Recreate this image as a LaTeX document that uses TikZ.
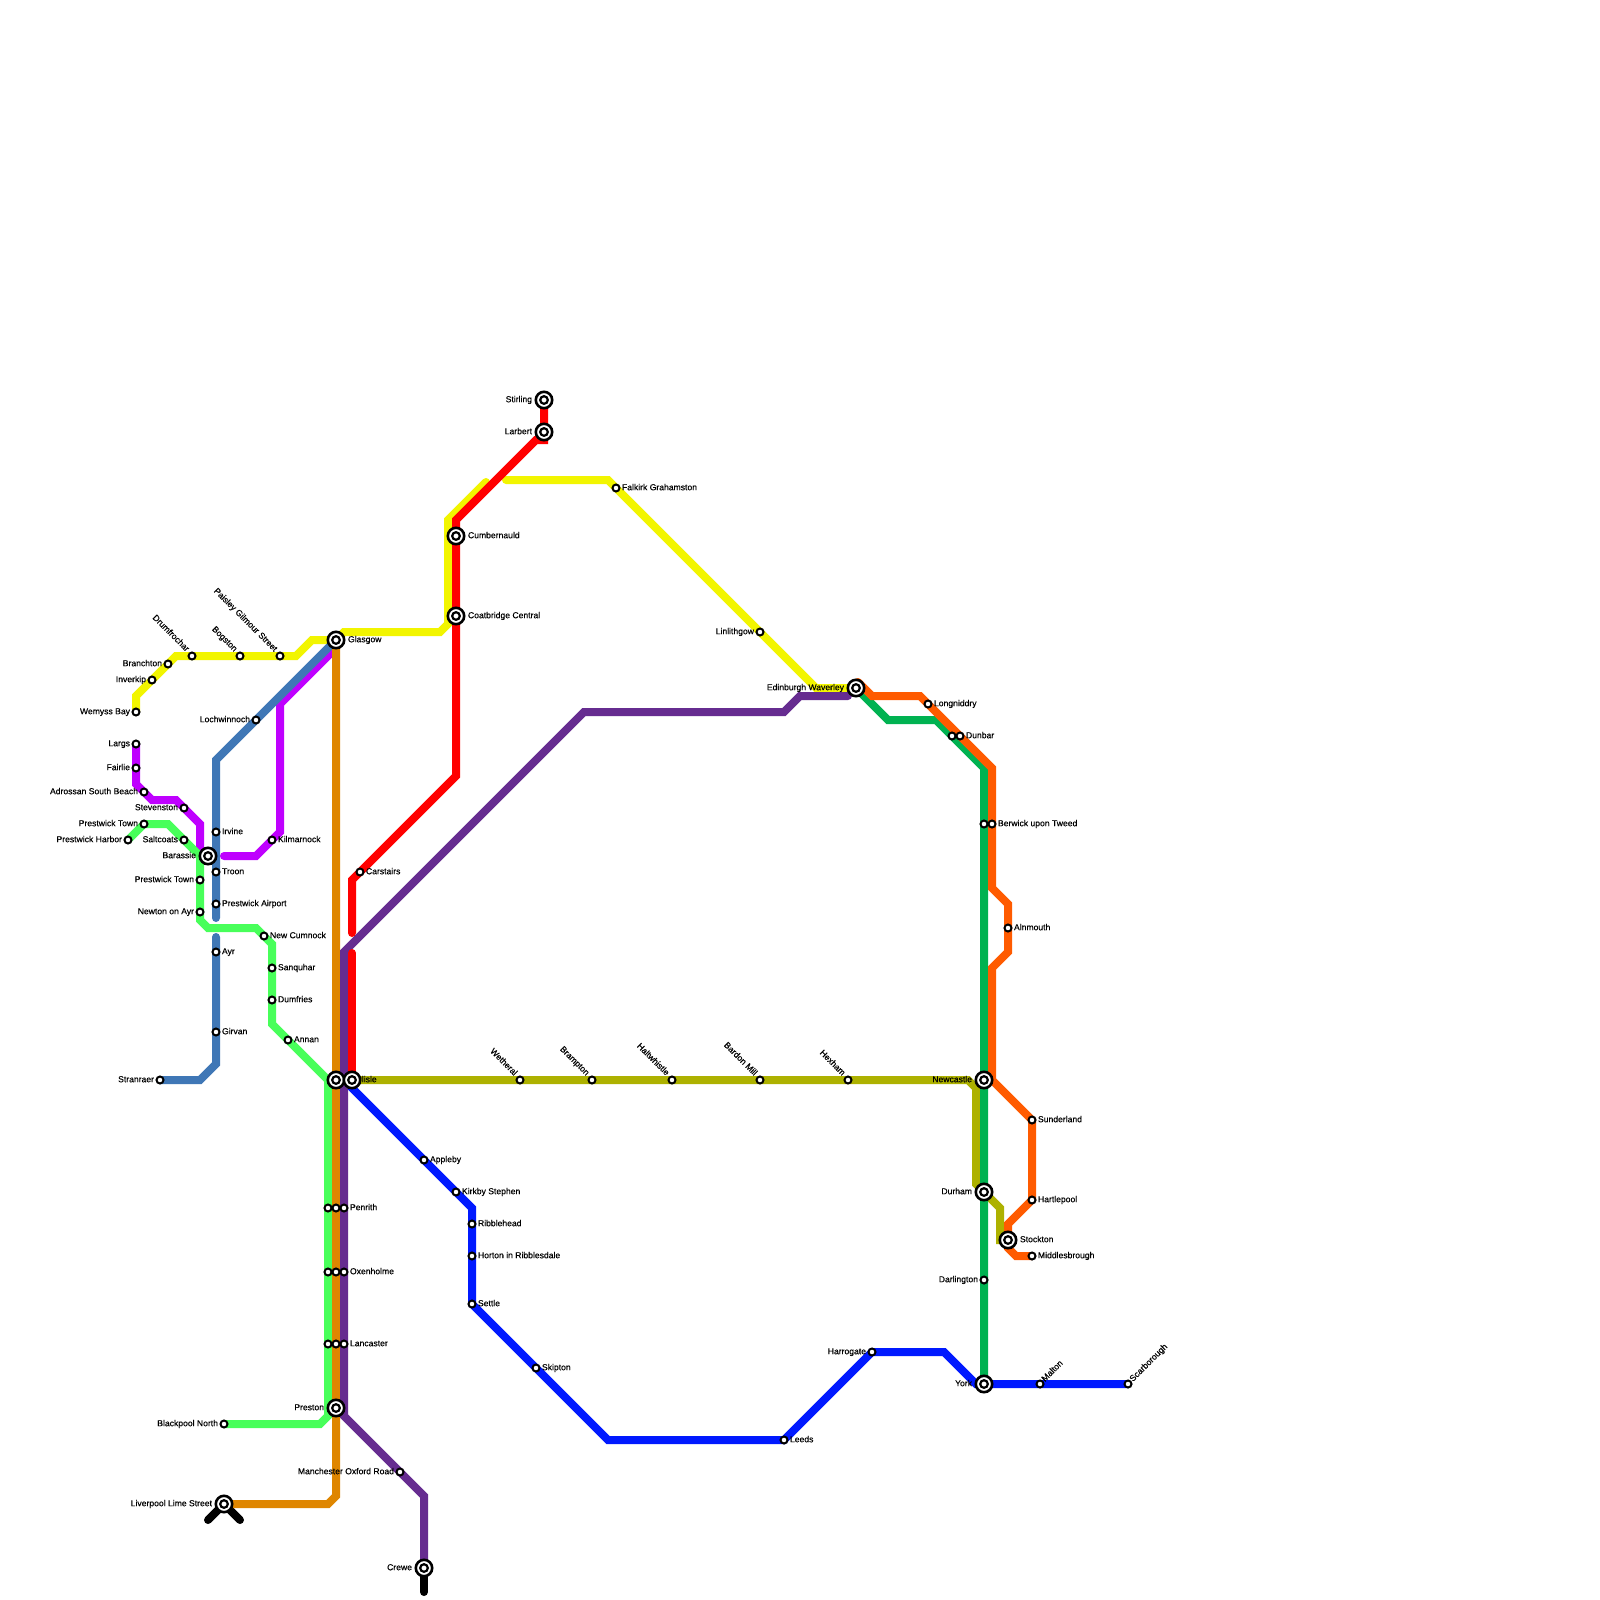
\documentclass[tikz,border=0pt]{standalone}
\usepackage{fontspec}
\newfontfamily\lblfont{Liberation Sans}[FakeBold=0.3]
\pgfdeclarelayer{lines}
\pgfdeclarelayer{labels}
\pgfsetlayers{lines,labels,main}
\definecolor{cyellow}{HTML}{F2F500}
\definecolor{cred}{HTML}{FF0000}
\definecolor{cpurple}{HTML}{662C90}
\definecolor{corange}{HTML}{DF8600}
\definecolor{csteel}{HTML}{3F77B6}
\definecolor{cmagenta}{HTML}{BF00FF}
\definecolor{cgreen}{HTML}{48FF5A}
\definecolor{cdgreen}{HTML}{00B251}
\definecolor{cverm}{HTML}{FF5B00}
\definecolor{colive}{HTML}{ADB100}
\definecolor{cblue}{HTML}{0019FF}
\tikzset{
  rail/.style={line width=8pt,line join=miter,miter limit=10,line cap=round},
  smallstn/.style={circle,draw=black,fill=white,line width=2pt,minimum size=7pt,inner sep=0pt,outer sep=0pt},
  bigstn/.style={circle,draw=black,fill=white,line width=2.6pt,minimum size=16.4pt,inner sep=0pt,outer sep=0pt},
  innerstn/.style={circle,draw=black,fill=white,line width=2.2pt,minimum size=7.6pt,inner sep=0pt,outer sep=0pt},
  lbl/.style={inner sep=0pt,outer sep=0pt,font=\lblfont\fontsize{8.6}{9}\selectfont,text=black},
}
\newcommand\labelat[5]{\begin{pgfonlayer}{labels}\node[lbl,anchor=#1,rotate=#2] (#3-t) at (#4) {#5};\end{pgfonlayer}}
\newcommand\stP[3]{\node[smallstn] (#1) at (#2,#3) {};}
\newcommand\stR[4]{\stP{#1}{#2}{#3}\labelat{base west}{0}{#1}{#2+6,#3+2.2}{#4}}
\newcommand\stL[4]{\stP{#1}{#2}{#3}\labelat{base east}{0}{#1}{#2-6,#3+2.2}{#4}}
\newcommand\stNW[4]{\stP{#1}{#2}{#3}\labelat{base east}{-45}{#1}{#2-6,#3-4}{#4}}
\newcommand\stNE[4]{\stP{#1}{#2}{#3}\labelat{base west}{45}{#1}{#2+5,#3-2}{#4}}
\newcommand\icP[3]{\node[bigstn] (#1) at (#2,#3) {};\node[innerstn] (#1-i) at (#2,#3) {};}
\newcommand\icR[4]{\labelat{base west}{0}{#1}{#2+12,#3+2.2}{#4}\icP{#1}{#2}{#3}}
\newcommand\icL[4]{\labelat{base east}{0}{#1}{#2-12,#3+2.2}{#4}\icP{#1}{#2}{#3}}
\begin{document}
\begin{tikzpicture}[x=1pt,y=-1pt]
\useasboundingbox (0,0) rectangle (1600,1600);
\begin{pgfonlayer}{lines}
\fill[white] (0,0) rectangle (1600,1600);
\end{pgfonlayer}
% Stations
\icR{glasgow}{336}{640}{Glasgow}
\stNW{drumfrochar}{192}{656}{Drumfrochar}
\stNW{bogston}{240}{656}{Bogston}
\stNW{paisley}{280}{656}{Paisley Gilmour Street}
\stL{branchton}{168}{664}{Branchton}
\stL{inverkip}{152}{680}{Inverkip}
\stL{wemyss}{136}{712}{Wemyss Bay}
\stL{largs}{136}{744}{Largs}
\stL{fairlie}{136}{768}{Fairlie}
\stL{adrossan}{144}{792}{Adrossan South Beach}
\stL{stevenston}{184}{808}{Stevenston}
\stL{prestwicka}{144}{824}{Prestwick Town}
\stL{harbor}{128}{840}{Prestwick Harbor}
\stL{saltcoats}{184}{840}{Saltcoats}
\icL{barassie}{208}{856}{Barassie}
\stR{irvine}{216}{832}{Irvine}
\stR{troon}{216}{872}{Troon}
\stL{prestwickb}{200}{880}{Prestwick Town}
\stL{lochwinnoch}{256}{720}{Lochwinnoch}
\stR{kilmarnock}{272}{840}{Kilmarnock}
\stR{carstairs}{360}{872}{Carstairs}
\stR{airport}{216}{904}{Prestwick Airport}
\stL{newton}{200}{912}{Newton on Ayr}
\stR{cumnock}{264}{936}{New Cumnock}
\stR{ayr}{216}{952}{Ayr}
\stR{sanquhar}{272}{968}{Sanquhar}
\stR{dumfries}{272}{1000}{Dumfries}
\stR{girvan}{216}{1032}{Girvan}
\stR{annan}{288}{1040}{Annan}
\stL{stranraer}{160}{1080}{Stranraer}
\icR{carlisle}{336}{1080}{Carlisle}
\icP{carlisleb}{352}{1080}
\stR{appleby}{424}{1160}{Appleby}
\stR{kirkby}{456}{1192}{Kirkby Stephen}
\stR{ribblehead}{472}{1224}{Ribblehead}
\stR{horton}{472}{1256}{Horton in Ribblesdale}
\stR{settle}{472}{1304}{Settle}
\stR{skipton}{536}{1368}{Skipton}
\stR{leeds}{784}{1440}{Leeds}
\stL{harrogate}{872}{1352}{Harrogate}
\icL{york}{984}{1384}{York}
\stNE{malton}{1040}{1384}{Malton}
\stNE{scarborough}{1128}{1384}{Scarborough}
\stL{darlington}{984}{1280}{Darlington}
\stP{penritha}{328}{1208}
\stP{penrithb}{336}{1208}
\stR{penrith}{344}{1208}{Penrith}
\stP{oxena}{328}{1272}
\stP{oxenb}{336}{1272}
\stR{oxenholme}{344}{1272}{Oxenholme}
\stP{lanca}{328}{1344}
\stP{lancb}{336}{1344}
\stR{lancaster}{344}{1344}{Lancaster}
\icL{preston}{336}{1408}{Preston}
\stL{blackpool}{224}{1424}{Blackpool North}
\stL{manchester}{400}{1472}{Manchester Oxford Road}
\icL{liverpool}{224}{1504}{Liverpool Lime Street}
\icL{crewe}{424}{1568}{Crewe}
\icL{newcastle}{984}{1080}{Newcastle}
\stR{sunderland}{1032}{1120}{Sunderland}
\icL{durham}{984}{1192}{Durham}
\stR{hartlepool}{1032}{1200}{Hartlepool}
\icR{stockton}{1008}{1240}{Stockton}
\stR{middlesbrough}{1032}{1256}{Middlesbrough}
\icL{edinburgh}{856}{688}{Edinburgh Waverley}
\stR{longniddry}{928}{704}{Longniddry}
\stP{dunbara}{952}{736}
\stR{dunbar}{960}{736}{Dunbar}
\stP{berwicka}{984}{824}
\stR{berwick}{992}{824}{Berwick upon Tweed}
\stR{alnmouth}{1008}{928}{Alnmouth}
\icL{stirling}{544}{400}{Stirling}
\icL{larbert}{544}{432}{Larbert}
\icR{cumbernauld}{456}{536}{Cumbernauld}
\icR{coatbridge}{456}{616}{Coatbridge Central}
\stR{falkirk}{616}{488}{Falkirk Grahamston}
\stL{linlithgow}{760}{632}{Linlithgow}
\stNW{wetheral}{520}{1080}{Wetheral}
\stNW{brampton}{592}{1080}{Brampton}
\stNW{haltwhistle}{672}{1080}{Haltwhistle}
\stNW{bardon}{760}{1080}{Bardon Mill}
\stNW{hexham}{848}{1080}{Hexham}
\coordinate (liverpoolstubl) at (208,1520);
\coordinate (liverpoolstubr) at (240,1520);
\coordinate (crewestub) at (424,1592);
\begin{pgfonlayer}{lines}
% black stubs
\draw[rail,black] (liverpoolstubl) -- (liverpool.center) -- (liverpoolstubr);
\draw[rail,black] (crewe.center) -- (crewestub);
% olive
\draw[rail,colive] (carlisleb.center) -- (968,1080) -- (976,1088) -- (976,1184) -- (durham.center) -- (1000,1208) -- (1000,1240) -- (stockton.center);
% yellow
\draw[rail,cyellow] (wemyss.center) -- (136,696) -- (176,656) -- (296,656) -- (312,640) -- (glasgow.center) -- (344,632) -- (440,632) -- (448,624) -- (448,520) -- (486,482);
\draw[rail,cyellow] (506,480) -- (608,480) -- (linlithgow.center) -- (816,688) -- (edinburgh.center);
% magenta
\draw[rail,cmagenta] (largs.center) -- (136,784) -- (152,800) -- (176,800) -- (200,824) -- (200,850);
\draw[rail,cmagenta] (224,856) -- (256,856) -- (280,832) -- (280,704) -- (331,653);
% steel
\draw[rail,csteel] (glasgow.center) -- (216,760) -- (216,918);
\draw[rail,csteel] (216,937) -- (216,1064) -- (200,1080) -- (stranraer.center);
% green
\draw[rail,cgreen] (harbor.center) -- (144,824) -- (168,824) -- (200,856) -- (200,920) -- (208,928) -- (256,928) -- (272,944) -- (272,1024) -- (328,1080) -- (328,1416) -- (320,1424) -- (blackpool.center);
% orange
\draw[rail,corange] (glasgow.center) -- (336,1496) -- (328,1504) -- (liverpool.center);
% purple
\draw[rail,cpurple] (crewe.center) -- (424,1496) -- (344,1416) -- (344,952) -- (584,712) -- (784,712) -- (800,696) -- (848,696);
% red
\draw[rail,cred] (stirling.center) -- (544,440) -- (536,440) -- (456,520) -- (456,776) -- (352,880) -- (352,933);
\draw[rail,cred] (352,953) -- (carlisleb.center);
% blue
\draw[rail,cblue] (carlisleb.center) -- (352,1088) -- (472,1208) -- (472,1304) -- (608,1440) -- (784,1440) -- (872,1352) -- (944,1352) -- (976,1384) -- (york.center) -- (scarborough.center);
% dark green
\draw[rail,cdgreen] (edinburgh.center) -- (888,720) -- (936,720) -- (984,768) -- (york.center);
% vermilion
\draw[rail,cverm] (858,682) -- (872,696) -- (920,696) -- (992,768) -- (992,888) -- (1008,904) -- (1008,952) -- (992,968) -- (992,1080) -- (1032,1120) -- (1032,1200) -- (1008,1224) -- (1008,1248) -- (1016,1256) -- (middlesbrough.center);
\end{pgfonlayer}
\end{tikzpicture}
\end{document}
